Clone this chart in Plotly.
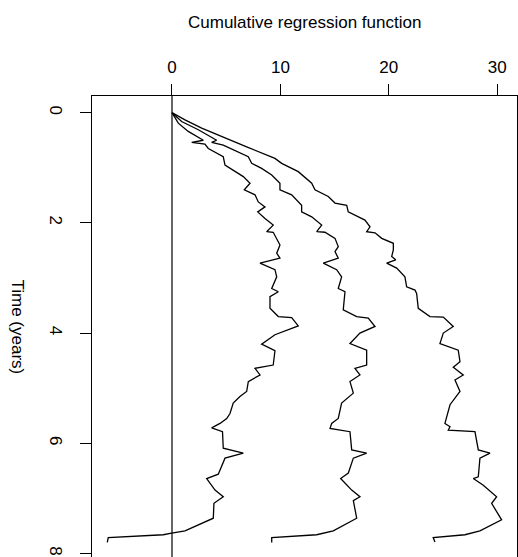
import plotly.graph_objects as go

# Time (years) and cumulative regression function: estimate and confidence band
time_upper = [0.00, 0.13, 0.28, 0.46, 0.62, 0.83, 0.92, 1.07, 1.28, 1.40, 1.52, 1.64, 1.68, 1.80,
              1.95, 2.07, 2.16, 2.18, 2.28, 2.37, 2.49, 2.61, 2.67, 2.73, 2.82, 2.98, 3.16, 3.22,
              3.28, 3.55, 3.70, 3.71, 3.88, 4.00, 4.19, 4.31, 4.52, 4.62, 4.76, 4.85, 5.06, 5.30,
              5.64, 5.70, 5.76, 5.79, 6.12, 6.18, 6.27, 6.61, 6.64, 6.76, 6.97, 7.09, 7.39, 7.59,
              7.66, 7.71, 7.79]
upper = [0.00, 1.20, 2.74, 4.89, 6.89, 9.50, 10.12, 11.65, 12.89, 13.19, 14.42, 15.04, 16.12, 16.26,
         17.80, 18.27, 17.96, 18.73, 19.35, 20.42, 20.42, 20.27, 20.64, 19.81, 20.73, 21.49, 21.65, 22.42,
         22.57, 22.72, 23.80, 25.03, 25.95, 25.03, 24.72, 26.41, 26.57, 25.95, 26.87, 26.11, 26.57, 25.65,
         25.18, 25.65, 25.49, 27.95, 28.26, 29.34, 28.41, 28.26, 27.80, 28.72, 29.95, 29.49, 30.41, 28.41,
         27.03, 24.10, 24.26]

time_est = [0.00, 0.16, 0.31, 0.50, 0.54, 0.59, 0.80, 0.92, 1.01, 1.13, 1.28, 1.40, 1.49, 1.68, 1.80,
            1.89, 2.04, 2.16, 2.17, 2.28, 2.43, 2.52, 2.64, 2.73, 2.85, 2.98, 3.19, 3.25, 3.58, 3.70,
            3.73, 3.88, 4.00, 4.19, 4.31, 4.58, 4.64, 4.76, 4.88, 5.09, 5.27, 5.55, 5.64, 5.73, 5.79,
            6.12, 6.18, 6.27, 6.54, 6.64, 6.85, 6.97, 7.04, 7.36, 7.59, 7.66, 7.71, 7.80]
estimate = [0.00, 0.89, 2.43, 4.12, 3.66, 4.73, 7.04, 7.35, 8.27, 9.20, 9.96, 9.96, 11.04, 11.96, 11.96,
            12.89, 13.81, 13.35, 14.11, 15.04, 15.34, 15.04, 15.34, 13.96, 15.19, 15.65, 15.34, 15.96, 15.80, 17.04,
            18.11, 18.73, 17.34, 16.42, 17.96, 17.96, 16.88, 17.34, 16.42, 16.73, 15.65, 15.34, 14.73, 14.58, 16.42,
            16.58, 17.96, 16.73, 16.27, 15.56, 16.58, 17.34, 16.73, 17.04, 14.88, 13.35, 9.20, 9.20]

time_lower = [0.00, 0.19, 0.34, 0.50, 0.54, 0.57, 0.65, 0.80, 0.95, 1.07, 1.16, 1.28, 1.40, 1.49, 1.62,
              1.71, 1.80, 1.92, 2.04, 2.16, 2.17, 2.40, 2.55, 2.64, 2.73, 2.85, 2.98, 3.19, 3.25, 3.34,
              3.55, 3.70, 3.72, 3.87, 3.96, 4.03, 4.20, 4.32, 4.58, 4.64, 4.76, 4.88, 5.06, 5.15, 5.27,
              5.46, 5.55, 5.64, 5.72, 5.79, 6.09, 6.18, 6.27, 6.56, 6.64, 6.85, 6.97, 7.09, 7.36, 7.59,
              7.63, 7.66, 7.71, 7.80]
lower = [0.00, 0.58, 1.50, 2.89, 1.82, 3.04, 3.35, 4.73, 4.89, 5.81, 6.58, 7.20, 6.67, 7.66, 7.96,
         8.58, 7.91, 8.58, 9.34, 8.73, 9.34, 9.96, 9.66, 9.96, 8.12, 9.50, 9.66, 9.20, 9.81, 9.04,
         9.04, 9.81, 11.04, 11.65, 10.42, 9.50, 8.27, 9.50, 9.34, 7.66, 8.12, 7.04, 6.89, 6.27, 5.65,
         5.35, 5.05, 4.43, 3.66, 4.66, 4.73, 6.58, 4.89, 4.27, 3.20, 3.97, 4.73, 3.87, 3.81, 1.20,
         -0.03, -0.80, -5.88, -5.97]

x_ticks = [0, 10, 20, 30]
y_ticks = [0, 2, 4, 6, 8]

FONT = "Liberation Sans, Arial, Helvetica, sans-serif"
FS = 17

fig = go.Figure()
for xs, ys in [(upper, time_upper), (estimate, time_est), (lower, time_lower)]:
    fig.add_trace(go.Scatter(x=xs, y=ys, mode="lines",
                             line=dict(color="black", width=1.3), showlegend=False,
                             hoverinfo="skip"))

fig.add_shape(type="line", xref="x", yref="paper", x0=0, x1=0, y0=0, y1=1,
              line=dict(color="black", width=1.2))

fig.update_layout(
    width=518, height=557,
    margin=dict(l=92, r=1, t=96, b=0),
    plot_bgcolor="white", paper_bgcolor="white",
    font=dict(family=FONT, size=FS, color="black"),
    xaxis=dict(side="top", range=[-7.38, 31.83], tickvals=x_ticks,
               showgrid=False, zeroline=False, showline=True, linecolor="black",
               linewidth=1.2, mirror=False, ticks="outside", ticklen=11, tickwidth=1.2,
               tickcolor="black", ticklabelstandoff=4,
               tickfont=dict(family=FONT, size=FS, color="black")),
    yaxis=dict(range=[8.064, -0.303], tickvals=y_ticks,
               showgrid=False, zeroline=False, showline=True, linecolor="black",
               linewidth=1.2, mirror=True, ticks="outside", ticklen=11, tickwidth=1.2,
               tickcolor="black", tickangle=90, ticklabelstandoff=9,
               tickfont=dict(family=FONT, size=FS, color="black")),
    annotations=[
        dict(text="Cumulative regression function", xref="paper", yref="paper",
             x=0.5, y=1, yshift=74, xanchor="center", yanchor="middle", showarrow=False,
             font=dict(family=FONT, size=FS, color="black")),
        dict(text="Time (years)", xref="paper", yref="paper", x=0, y=0.5,
             xshift=-75, xanchor="center", yanchor="middle", textangle=90,
             showarrow=False, font=dict(family=FONT, size=FS, color="black")),
    ],
)

fig.write_html("out.html")
